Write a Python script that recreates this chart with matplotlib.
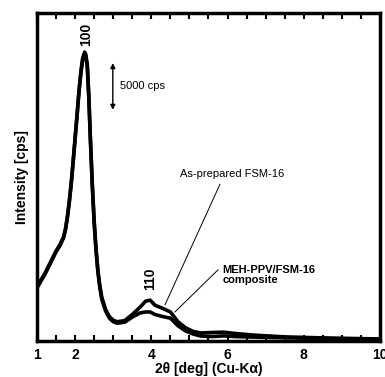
import matplotlib
matplotlib.use("Agg")
import matplotlib.pyplot as plt
import numpy as np

plt.rcParams['font.family'] = ['Liberation Sans', 'DejaVu Sans']

# XRD patterns (2theta in deg, intensity in cps)
two_theta = [1.0, 1.05, 1.1, 1.2, 1.3, 1.4, 1.5, 1.6, 1.7, 1.75, 1.8, 1.85, 1.9, 1.95,
             2.0, 2.05, 2.1, 2.15, 2.2, 2.25, 2.28, 2.32, 2.36, 2.4, 2.45, 2.5, 2.55,
             2.6, 2.65, 2.7, 2.8, 2.9, 3.0, 3.1, 3.3, 3.5, 3.7, 3.85, 3.97, 4.1,
             4.3, 4.5, 4.7, 4.9, 5.1, 5.3, 5.6, 5.9, 6.2, 6.7, 7.5, 8.5, 9.5, 10.0]
as_prepared = [5300, 5600, 5950, 6550, 7300, 8050, 8800, 9400, 10200, 11000, 12200, 13700, 15500, 17600,
               19800, 22000, 24300, 26200, 27600, 28200, 28000, 27000, 24000, 20000, 15500, 11800, 9000,
               6900, 5400, 4300, 3100, 2400, 2050, 1900, 2000, 2600, 3300, 3900, 4000, 3500,
               3200, 2850, 1900, 1300, 950, 800, 850, 880, 750, 590, 420, 320, 250, 220]
composite = [5200, 5500, 5850, 6450, 7200, 7950, 8700, 9300, 10100, 10900, 12100, 13600, 15400, 17500,
             19700, 21900, 24200, 26100, 27500, 28000, 27800, 26800, 23800, 19800, 15300, 11600, 8800,
             6700, 5200, 4100, 2950, 2250, 1900, 1750, 1850, 2350, 2750, 2850, 2850, 2600,
             2400, 2250, 1500, 1000, 700, 500, 450, 520, 450, 400, 330, 260, 200, 180]

tick_labels = [1, 2, 4, 6, 8, 10]

fig = plt.figure(figsize=(3.85, 3.77), dpi=100)
ax = fig.add_axes([0.096, 0.095, 0.891, 0.87])

ax.plot(two_theta, as_prepared, color='black', lw=2.6)
ax.plot(two_theta, composite, color='black', lw=2.6)

ax.set_xlim(1, 10)
ax.set_ylim(0, 32000)
ax.set_xticks(tick_labels)
ax.set_xticklabels([str(t) for t in tick_labels], fontweight='bold', fontsize=10)
ax.set_xticks(np.arange(1, 10.01, 0.5), minor=True)
ax.set_yticks([])
ax.tick_params(axis='x', which='both', direction='in', top=True, length=4, width=1.5, pad=5)
for s in ax.spines.values():
    s.set_linewidth(2.5)

ax.set_xlabel('2θ [deg] (Cu-Kα)', fontweight='bold', fontsize=10, labelpad=0)
ax.set_ylabel('Intensity [cps]', fontweight='bold', fontsize=10, labelpad=6)

# peak indices
ax.text(2.29, 29900, '100', rotation=90, ha='center', va='center', fontweight='bold', fontsize=10)
ax.text(3.97, 6100, '110', rotation=90, ha='center', va='center', fontweight='bold', fontsize=10)

# scale bar
ax.annotate('', xy=(2.99, 27400), xytext=(2.99, 22300),
            arrowprops=dict(arrowstyle='<|-|>', color='black', lw=1, mutation_scale=7))
ax.text(3.17, 24900, '5000 cps', ha='left', va='center', fontsize=8)

# labels
ax.text(4.75, 16300, 'As-prepared FSM-16', ha='left', va='center', fontsize=8)
ax.plot([5.8, 4.36], [15300, 3550], color='black', lw=0.7)
ax.text(5.86, 6500, 'MEH-PPV/FSM-16\ncomposite', ha='left', va='center',
        fontsize=8, fontweight='bold', linespacing=1.0)
ax.plot([5.75, 4.62], [6960, 2850], color='black', lw=0.7)

fig.savefig('out.png', dpi=100)
